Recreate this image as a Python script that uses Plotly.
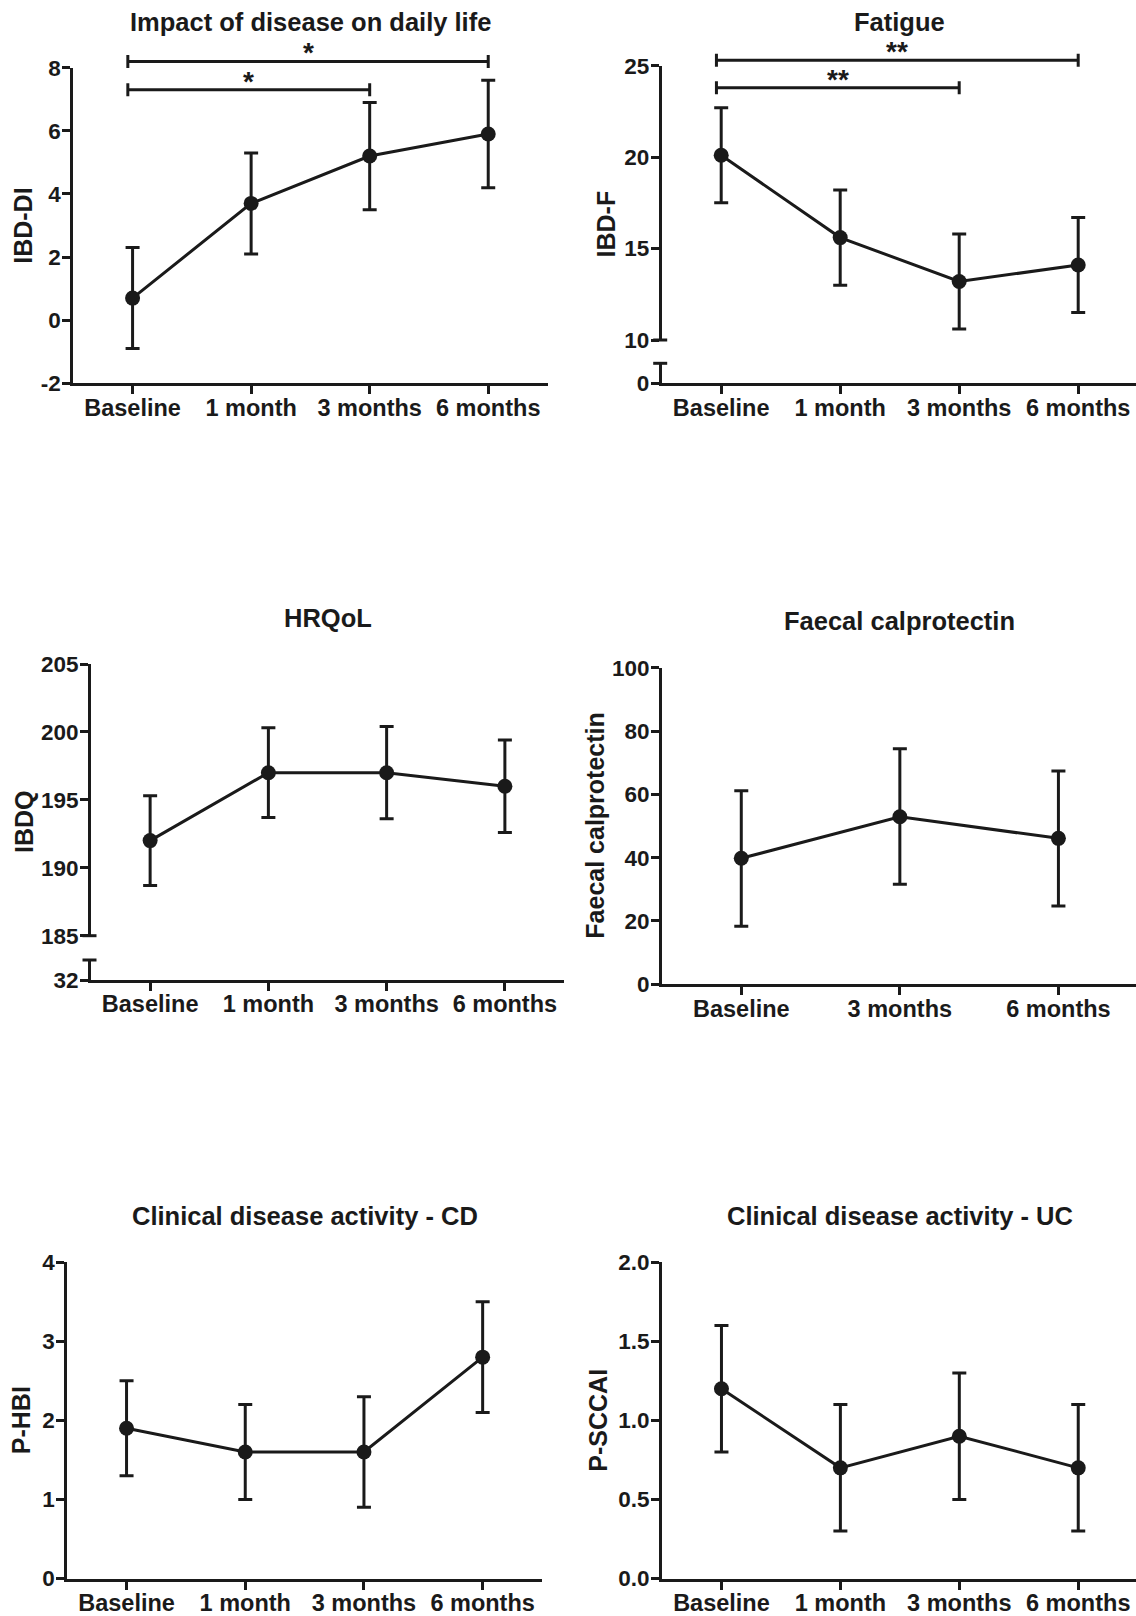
import plotly.graph_objects as go

W, H = 1136, 1616
INK = "#1a1a1a"
FONT = "Liberation Sans, Arial, sans-serif"

# ---------------- data ----------------
months4 = ["Baseline", "1 month", "3 months", "6 months"]
months3 = ["Baseline", "3 months", "6 months"]

ibddi_mean = [0.7, 3.7, 5.2, 5.9]
ibddi_upper = [2.3, 5.3, 6.9, 7.6]
ibddi_lower = [-0.9, 2.1, 3.5, 4.2]

ibdf_mean = [20.1, 15.6, 13.2, 14.1]
ibdf_upper = [22.7, 18.2, 15.8, 16.7]
ibdf_lower = [17.5, 13.0, 10.6, 11.5]

ibdq_mean = [192.0, 197.0, 197.0, 196.0]
ibdq_upper = [195.3, 200.3, 200.4, 199.4]
ibdq_lower = [188.7, 193.7, 193.6, 192.6]

fc_mean = [39.8, 52.9, 46.1]
fc_upper = [61.1, 74.4, 67.4]
fc_lower = [18.3, 31.6, 24.7]

phbi_mean = [1.9, 1.6, 1.6, 2.8]
phbi_upper = [2.5, 2.2, 2.3, 3.5]
phbi_lower = [1.3, 1.0, 0.9, 2.1]

psccai_mean = [1.2, 0.7, 0.9, 0.7]
psccai_upper = [1.6, 1.1, 1.3, 1.1]
psccai_lower = [0.8, 0.3, 0.5, 0.3]

# tick values
ibddi_ticks = [-2, 0, 2, 4, 6, 8]
ibdf_ticks = [10, 15, 20, 25]
ibdf_break_ticks = [0]
ibdq_ticks = [185, 190, 195, 200, 205]
ibdq_break_ticks = [32]
fc_ticks = [0, 20, 40, 60, 80, 100]
phbi_ticks = [0, 1, 2, 3, 4]
psccai_ticks = [0, 0.5, 1.0, 1.5, 2.0]

# significance brackets: (from, to, level, label)
ibddi_sig = [("Baseline", "3 months", 7.3, "*"), ("Baseline", "6 months", 8.2, "*")]
ibdf_sig = [("Baseline", "3 months", 23.8, "**"), ("Baseline", "6 months", 25.3, "**")]

# ---------------- layout spec (pixel geometry) ----------------
panels = [
    dict(title="Impact of disease on daily life", ytitle="IBD-DI", cats=months4,
         mean=ibddi_mean, upper=ibddi_upper, lower=ibddi_lower, ticks=ibddi_ticks,
         px_x=(73.3, 547.5), ytick_px=(67.7, 383.3), title_y=21.7, ytitle_x=22.3,
         brk=None, sig=ibddi_sig, fmt="{:g}"),
    dict(title="Fatigue", ytitle="IBD-F", cats=months4,
         mean=ibdf_mean, upper=ibdf_upper, lower=ibdf_lower, ticks=ibdf_ticks,
         px_x=(661.7, 1137.7), ytick_px=(65.7, 340.0), title_y=21.7, ytitle_x=606.0,
         brk=dict(ticks=ibdf_break_ticks, top=363.3, bot=383.3), sig=ibdf_sig, fmt="{:g}"),
    dict(title="HRQoL", ytitle="IBDQ", cats=months4,
         mean=ibdq_mean, upper=ibdq_upper, lower=ibdq_lower, ticks=ibdq_ticks,
         px_x=(91.0, 564.0), ytick_px=(664.0, 935.7), title_y=618.3, ytitle_x=24.0,
         brk=dict(ticks=ibdq_break_ticks, top=960.0, bot=980.0), sig=None, fmt="{:g}"),
    dict(title="Faecal calprotectin", ytitle="Faecal calprotectin", cats=months3,
         mean=fc_mean, upper=fc_upper, lower=fc_lower, ticks=fc_ticks,
         px_x=(662.0, 1137.7), ytick_px=(667.7, 984.3), title_y=620.7, ytitle_x=594.7,
         brk=None, sig=None, fmt="{:g}"),
    dict(title="Clinical disease activity - CD", ytitle="P-HBI", cats=months4,
         mean=phbi_mean, upper=phbi_upper, lower=phbi_lower, ticks=phbi_ticks,
         px_x=(67.2, 542.0), ytick_px=(1262.3, 1578.5), title_y=1216.0, ytitle_x=21.8,
         brk=None, sig=None, fmt="{:g}"),
    dict(title="Clinical disease activity - UC", ytitle="P-SCCAI", cats=months4,
         mean=psccai_mean, upper=psccai_upper, lower=psccai_lower, ticks=psccai_ticks,
         px_x=(662.0, 1137.7), ytick_px=(1262.3, 1578.5), title_y=1216.0, ytitle_x=598.3,
         brk=None, sig=None, fmt="{:.1f}"),
]

TITLE_SIZE = 25.5
YTITLE_SIZE = 25
XTICK_SIZE = 23.5
YTICK_SIZE = 22.5
STAR_SIZE = 28
LW = 3


def axkey(p, n):
    return p + ("axis" if n == 1 else "axis%d" % n)


def axref(p, n):
    return p + ("" if n == 1 else str(n))


def dom_x(a, b):
    return [max(0.0, a / W), min(1.0, b / W)]


def dom_y(top_px, bot_px):
    return [max(0.0, 1 - bot_px / H), min(1.0, 1 - top_px / H)]


def bold(size):
    return dict(family=FONT, size=size, color=INK, weight="bold")


VISIBLE = dict(showline=True, linewidth=LW, linecolor=INK, ticks="outside",
               ticklen=8, tickwidth=LW, tickcolor=INK, showgrid=False,
               zeroline=False, fixedrange=True, automargin=False)
HIDDEN = dict(showline=False, showticklabels=False, ticks="", showgrid=False,
              zeroline=False, fixedrange=True, automargin=False)
XTICKS = dict(tickfont=bold(XTICK_SIZE), ticklabelstandoff=-7)
YTICKS = dict(tickfont=bold(YTICK_SIZE), ticklabelstandoff=-3)

fig = go.Figure()
lay = {}
shapes = []
annotations = []
counter = [0]


def new_id():
    counter[0] += 1
    return counter[0]


for p in panels:
    cats = p["cats"]
    n = len(cats)
    xa, xb = p["px_x"]
    per = (xb - xa) / n
    xb_clip = min(xb, W)
    xr = [-0.5, -0.5 + (xb_clip - xa) / per]
    xdom = dom_x(xa, xb_clip)
    ticks = p["ticks"]
    t_hi, t_lo = p["ytick_px"]
    v0, v1 = ticks[0], ticks[-1]

    def v_at(px, v0=v0, v1=v1, t_hi=t_hi, t_lo=t_lo):
        return v0 + (t_lo - px) * (v1 - v0) / (t_lo - t_hi)

    xcat = dict(domain=xdom, range=xr, type="category", categoryorder="array",
                categoryarray=cats)

    m = new_id()
    mx, my = axref("x", m), axref("y", m)
    lay[axkey("y", m)] = dict(domain=dom_y(t_hi, t_lo), range=[v0, v1], tickmode="array",
                              tickvals=ticks, ticktext=[p["fmt"].format(t) for t in ticks],
                              anchor=mx, **YTICKS, **VISIBLE)

    if p["brk"]:
        lay[axkey("x", m)] = dict(anchor=my, **xcat, **HIDDEN)
        b = p["brk"]
        bt = b["ticks"]
        bid = new_id()
        bx, by = axref("x", bid), axref("y", bid)
        lay[axkey("x", bid)] = dict(anchor=by, **XTICKS, **xcat, **VISIBLE)
        lay[axkey("y", bid)] = dict(domain=dom_y(b["top"], b["bot"]), range=[bt[0], bt[0] + 1],
                                    tickmode="array", tickvals=bt,
                                    ticktext=[p["fmt"].format(t) for t in bt],
                                    anchor=bx, **YTICKS, **VISIBLE)
        # invisible placeholder so the break subplot (its axes) is created
        fig.add_trace(go.Scatter(x=[cats[0]], y=[bt[0]], xaxis=bx, yaxis=by, mode="markers",
                                 marker=dict(size=1, opacity=0), hoverinfo="skip"))
        shapes.append(dict(type="line", xref=mx + " domain", yref=my + " domain",
                           xsizemode="pixel", xanchor=0, x0=-8.5, x1=5.5, y0=0, y1=0,
                           line=dict(color=INK, width=LW)))
        shapes.append(dict(type="line", xref=bx + " domain", yref=by + " domain",
                           xsizemode="pixel", xanchor=0, x0=-8.5, x1=5.5, y0=1, y1=1,
                           line=dict(color=INK, width=LW)))
        bottom_px = b["bot"]
    else:
        lay[axkey("x", m)] = dict(anchor=my, **XTICKS, **xcat, **VISIBLE)
        bottom_px = t_lo

    fig.add_trace(go.Scatter(
        x=cats, y=p["mean"], xaxis=mx, yaxis=my,
        mode="lines+markers", cliponaxis=False,
        line=dict(color=INK, width=LW),
        marker=dict(size=15, color=INK),
        error_y=dict(type="data", symmetric=False,
                     array=[u - mm for u, mm in zip(p["upper"], p["mean"])],
                     arrayminus=[mm - l for mm, l in zip(p["mean"], p["lower"])],
                     thickness=LW, width=7, color=INK),
        hoverinfo="skip",
    ))

    annotations.append(dict(text=p["title"], xref="paper", yref="paper",
                            x=(xa + xb) / 2 / W, y=1 - p["title_y"] / H,
                            xanchor="center", yanchor="middle", showarrow=False,
                            font=bold(TITLE_SIZE)))
    annotations.append(dict(text=p["ytitle"], xref="paper", yref="paper",
                            x=p["ytitle_x"] / W, y=1 - (t_hi + bottom_px) / 2 / H,
                            xanchor="center", yanchor="middle", textangle=-90,
                            showarrow=False, font=bold(YTITLE_SIZE)))

    if p["sig"]:
        oid = new_id()
        xo, yo = axref("x", oid), axref("y", oid)
        lv_px = [t_lo - (s[2] - v0) * (t_lo - t_hi) / (v1 - v0) for s in p["sig"]]
        band_top, band_bot = min(lv_px) - 25, max(lv_px) + 15
        lay[axkey("x", oid)] = dict(domain=xdom, range=xr, anchor=yo, **HIDDEN)
        lay[axkey("y", oid)] = dict(domain=dom_y(band_top, band_bot),
                                    range=[v_at(band_bot), v_at(band_top)],
                                    anchor=xo, **HIDDEN)
        for (c0, c1, lvl, lab) in p["sig"]:
            i0 = cats.index(c0) - 0.04
            i1 = cats.index(c1)
            shapes.append(dict(type="line", xref=xo, yref=yo, x0=i0, x1=i1, y0=lvl, y1=lvl,
                               line=dict(color=INK, width=LW)))
            for xi in (i0, i1):
                shapes.append(dict(type="line", xref=xo, yref=yo, x0=xi, x1=xi,
                                   ysizemode="pixel", yanchor=lvl, y0=-6.5, y1=6.5,
                                   line=dict(color=INK, width=LW)))
            annotations.append(dict(text=lab, xref=xo, yref=yo, x=(i0 + i1) / 2, y=lvl,
                                    xanchor="center", yanchor="middle", yshift=8.5,
                                    showarrow=False, font=bold(STAR_SIZE)))

fig.update_layout(width=W, height=H,
                  margin=dict(l=0, r=0, t=0, b=0, pad=0, autoexpand=False),
                  paper_bgcolor="white", plot_bgcolor="rgba(0,0,0,0)",
                  showlegend=False, shapes=shapes, annotations=annotations, **lay)

fig.write_html("out.html", config={"displayModeBar": False, "staticPlot": True},
               post_script="document.body.style.margin='0px';document.body.style.overflow='hidden';")
